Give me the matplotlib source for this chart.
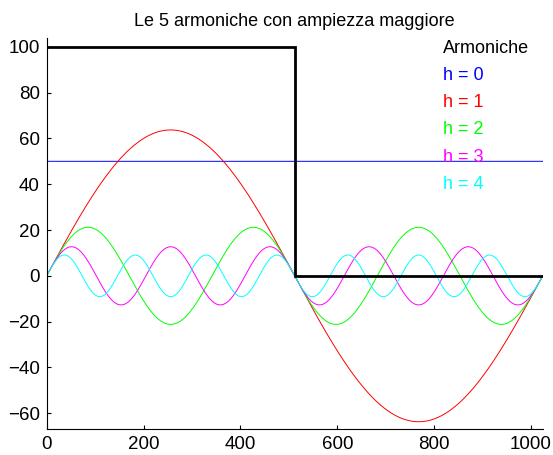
import numpy as np
import matplotlib.pyplot as plt

plt.rcParams['font.family'] = ['Liberation Sans', 'DejaVu Sans']

# onda quadra
square_edges = [0, 512, 1024]
square_levels = [100, 0]

# armoniche: ampiezza e numero di periodi nei 1024 campioni
labels = ['h = 0', 'h = 1', 'h = 2', 'h = 3', 'h = 4']
amplitudes = [50, 63.7, 21.2, 12.7, 9.1]
cycles = [0, 1, 3, 5, 7]
colors = ['#0000ff', '#ff0000', '#00ff00', '#ff00ff', '#00ffff']

n = 1024
x = np.arange(n + 1)

fig = plt.figure(figsize=(5.53, 4.55), dpi=100)
ax = fig.add_axes([0.0844, 0.0565, 0.8969, 0.8593])

ax.stairs(square_levels, square_edges, baseline=None, color='black', linewidth=2.0, zorder=5)

for lab, a, k, c in zip(labels, amplitudes, cycles, colors):
    if k == 0:
        y = np.full(x.shape, float(a))
    else:
        y = a * np.sin(2 * np.pi * k * x / n)
    ax.plot(x, y, color=c, linewidth=0.7, label=lab)

ax.set_xlim(0, 1024)
ax.set_ylim(-67, 103.7)
ax.set_xticks(np.arange(0, 1001, 200))
ax.set_yticks(np.arange(-60, 101, 20))
ax.tick_params(direction='in', length=3, width=0.8, labelsize=13.5, pad=5)
ax.spines['top'].set_visible(False)
ax.spines['right'].set_visible(False)
for s in ['left', 'bottom']:
    ax.spines[s].set_linewidth(0.8)

ax.set_title('Le 5 armoniche con ampiezza maggiore', fontsize=13, pad=9)

leg = ax.legend(title='Armoniche', loc='upper left', bbox_to_anchor=(0.766, 1.037),
                frameon=False, handlelength=0, handletextpad=0, labelcolor='linecolor',
                fontsize=13, title_fontsize=13, labelspacing=0.56)
leg._legend_box.align = 'left'
for h in leg.legend_handles:
    h.set_visible(False)

fig.savefig('out.png', dpi=100)
